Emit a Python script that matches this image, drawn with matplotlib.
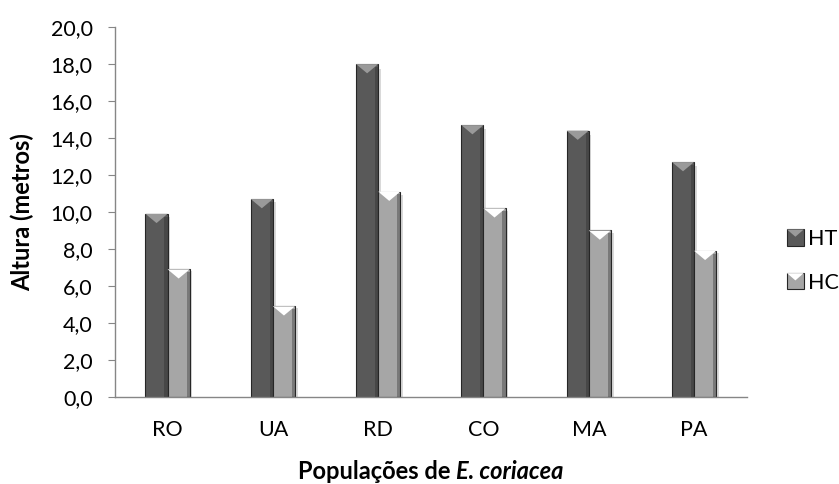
import matplotlib.pyplot as plt
import numpy as np
from matplotlib.patches import Polygon, Rectangle
from matplotlib.legend_handler import HandlerBase

# Heights per population (m)
populacoes = ['RO', 'UA', 'RD', 'CO', 'MA', 'PA']
ht = [9.9, 10.7, 18.0, 14.7, 14.4, 12.7]
hc = [6.9, 4.9, 11.1, 10.2, 9.0, 7.9]
series_labels = ['HT', 'HC']

plt.rcParams['font.family'] = ['Lato', 'DejaVu Sans']
fs = 15.5
title_fs = 17

ht_face, ht_tip = '#595959', '#9a9a9a'
hc_face, hc_tip = '#a6a6a6', '#ffffff'
edge = '#262626'
axis_gray = '#868686'

fig = plt.figure(figsize=(8.39, 4.84), dpi=100)
ax = fig.add_axes([0.137, 0.180, 0.753, 0.764])

x = np.arange(len(populacoes))
w = 0.21
tip_depth = 0.5


def draw_bevel(bars, face, tip):
    for b in bars:
        x0, bw, h = b.get_x(), b.get_width(), b.get_height()
        # soft shadow on the right side
        ax.add_patch(Rectangle((x0 + bw, 0), 0.025, h * 0.985, color='#d9d9d9',
                               lw=0, zorder=1))
        # slanted top bevel
        ax.add_patch(Polygon([(x0, h), (x0 + bw, h), (x0 + bw / 2, h - tip_depth)],
                             closed=True, facecolor=tip, edgecolor='none', zorder=3))
        # darker right rim
        ax.add_patch(Rectangle((x0 + bw * 0.86, 0), bw * 0.14, h - tip_depth * 0.3,
                               color=edge, alpha=0.35, lw=0, zorder=3))


bars_ht = ax.bar(x - w / 2, ht, w, color=ht_face, edgecolor=edge, linewidth=0.8,
                 label=series_labels[0], zorder=2)
bars_hc = ax.bar(x + w / 2, hc, w, color=hc_face, edgecolor=edge, linewidth=0.8,
                 label=series_labels[1], zorder=2)
draw_bevel(bars_ht, ht_face, ht_tip)
draw_bevel(bars_hc, hc_face, hc_tip)

ax.set_xlim(-0.5, len(populacoes) - 0.5)
ax.set_ylim(0, 20)
ax.set_yticks(np.arange(0, 21, 2))
ax.set_yticklabels([f'{v:.1f}'.replace('.', ',') for v in np.arange(0, 21, 2)])
ax.set_xticks(x)
ax.set_xticklabels(populacoes)

for side in ['top', 'right']:
    ax.spines[side].set_visible(False)
for side in ['left', 'bottom']:
    ax.spines[side].set_color(axis_gray)
    ax.spines[side].set_linewidth(1.0)
ax.tick_params(axis='y', length=5, color=axis_gray, labelsize=fs, pad=11)
ax.tick_params(axis='x', length=0, labelsize=fs, pad=17)

ax.set_ylabel('Altura (metros)', fontsize=title_fs, fontweight='bold', va='center')
ax.yaxis.set_label_coords(-0.146, 0.5)


class BevelHandler(HandlerBase):
    def __init__(self, face, tip):
        super().__init__()
        self.face = face
        self.tip = tip

    def create_artists(self, legend, orig_handle, xdescent, ydescent,
                       width, height, fontsize, trans):
        x0, y0 = -xdescent, -ydescent
        sq = Rectangle((x0, y0), width, height, facecolor=self.face,
                       edgecolor=edge, linewidth=0.8, transform=trans)
        tri = Polygon([(x0, y0 + height), (x0 + width, y0 + height),
                       (x0 + width / 2, y0 + height * 0.55)],
                      closed=True, facecolor=self.tip, edgecolor='none',
                      transform=trans)
        return [sq, tri]


ax.legend(handles=[bars_ht, bars_hc], labels=series_labels,
          handler_map={bars_ht: BevelHandler(ht_face, ht_tip),
                       bars_hc: BevelHandler(hc_face, hc_tip)},
          loc='center left', bbox_to_anchor=(0.938, 0.461),
          bbox_transform=fig.transFigure, frameon=False, fontsize=fs,
          borderpad=0, borderaxespad=0,
          handlelength=0.78, handleheight=0.78, handletextpad=0.2,
          labelspacing=1.1)

# x axis title: bold with italic species name
fig.canvas.draw()
renderer = fig.canvas.get_renderer()
t1 = fig.text(0, 0.011, 'Populações de ', fontsize=title_fs, fontweight='bold',
              va='baseline', ha='left')
t2 = fig.text(0, 0.011, 'E. coriacea', fontsize=title_fs, fontweight='bold',
              style='italic', va='baseline', ha='left')
w1 = t1.get_window_extent(renderer).width
w2 = t2.get_window_extent(renderer).width
cx = (ax.get_position().x0 + ax.get_position().x1) / 2 * fig.bbox.width
start = cx - (w1 + w2) / 2
t1.set_x(start / fig.bbox.width)
t2.set_x((start + w1) / fig.bbox.width)

fig.savefig('out.png', dpi=100)
